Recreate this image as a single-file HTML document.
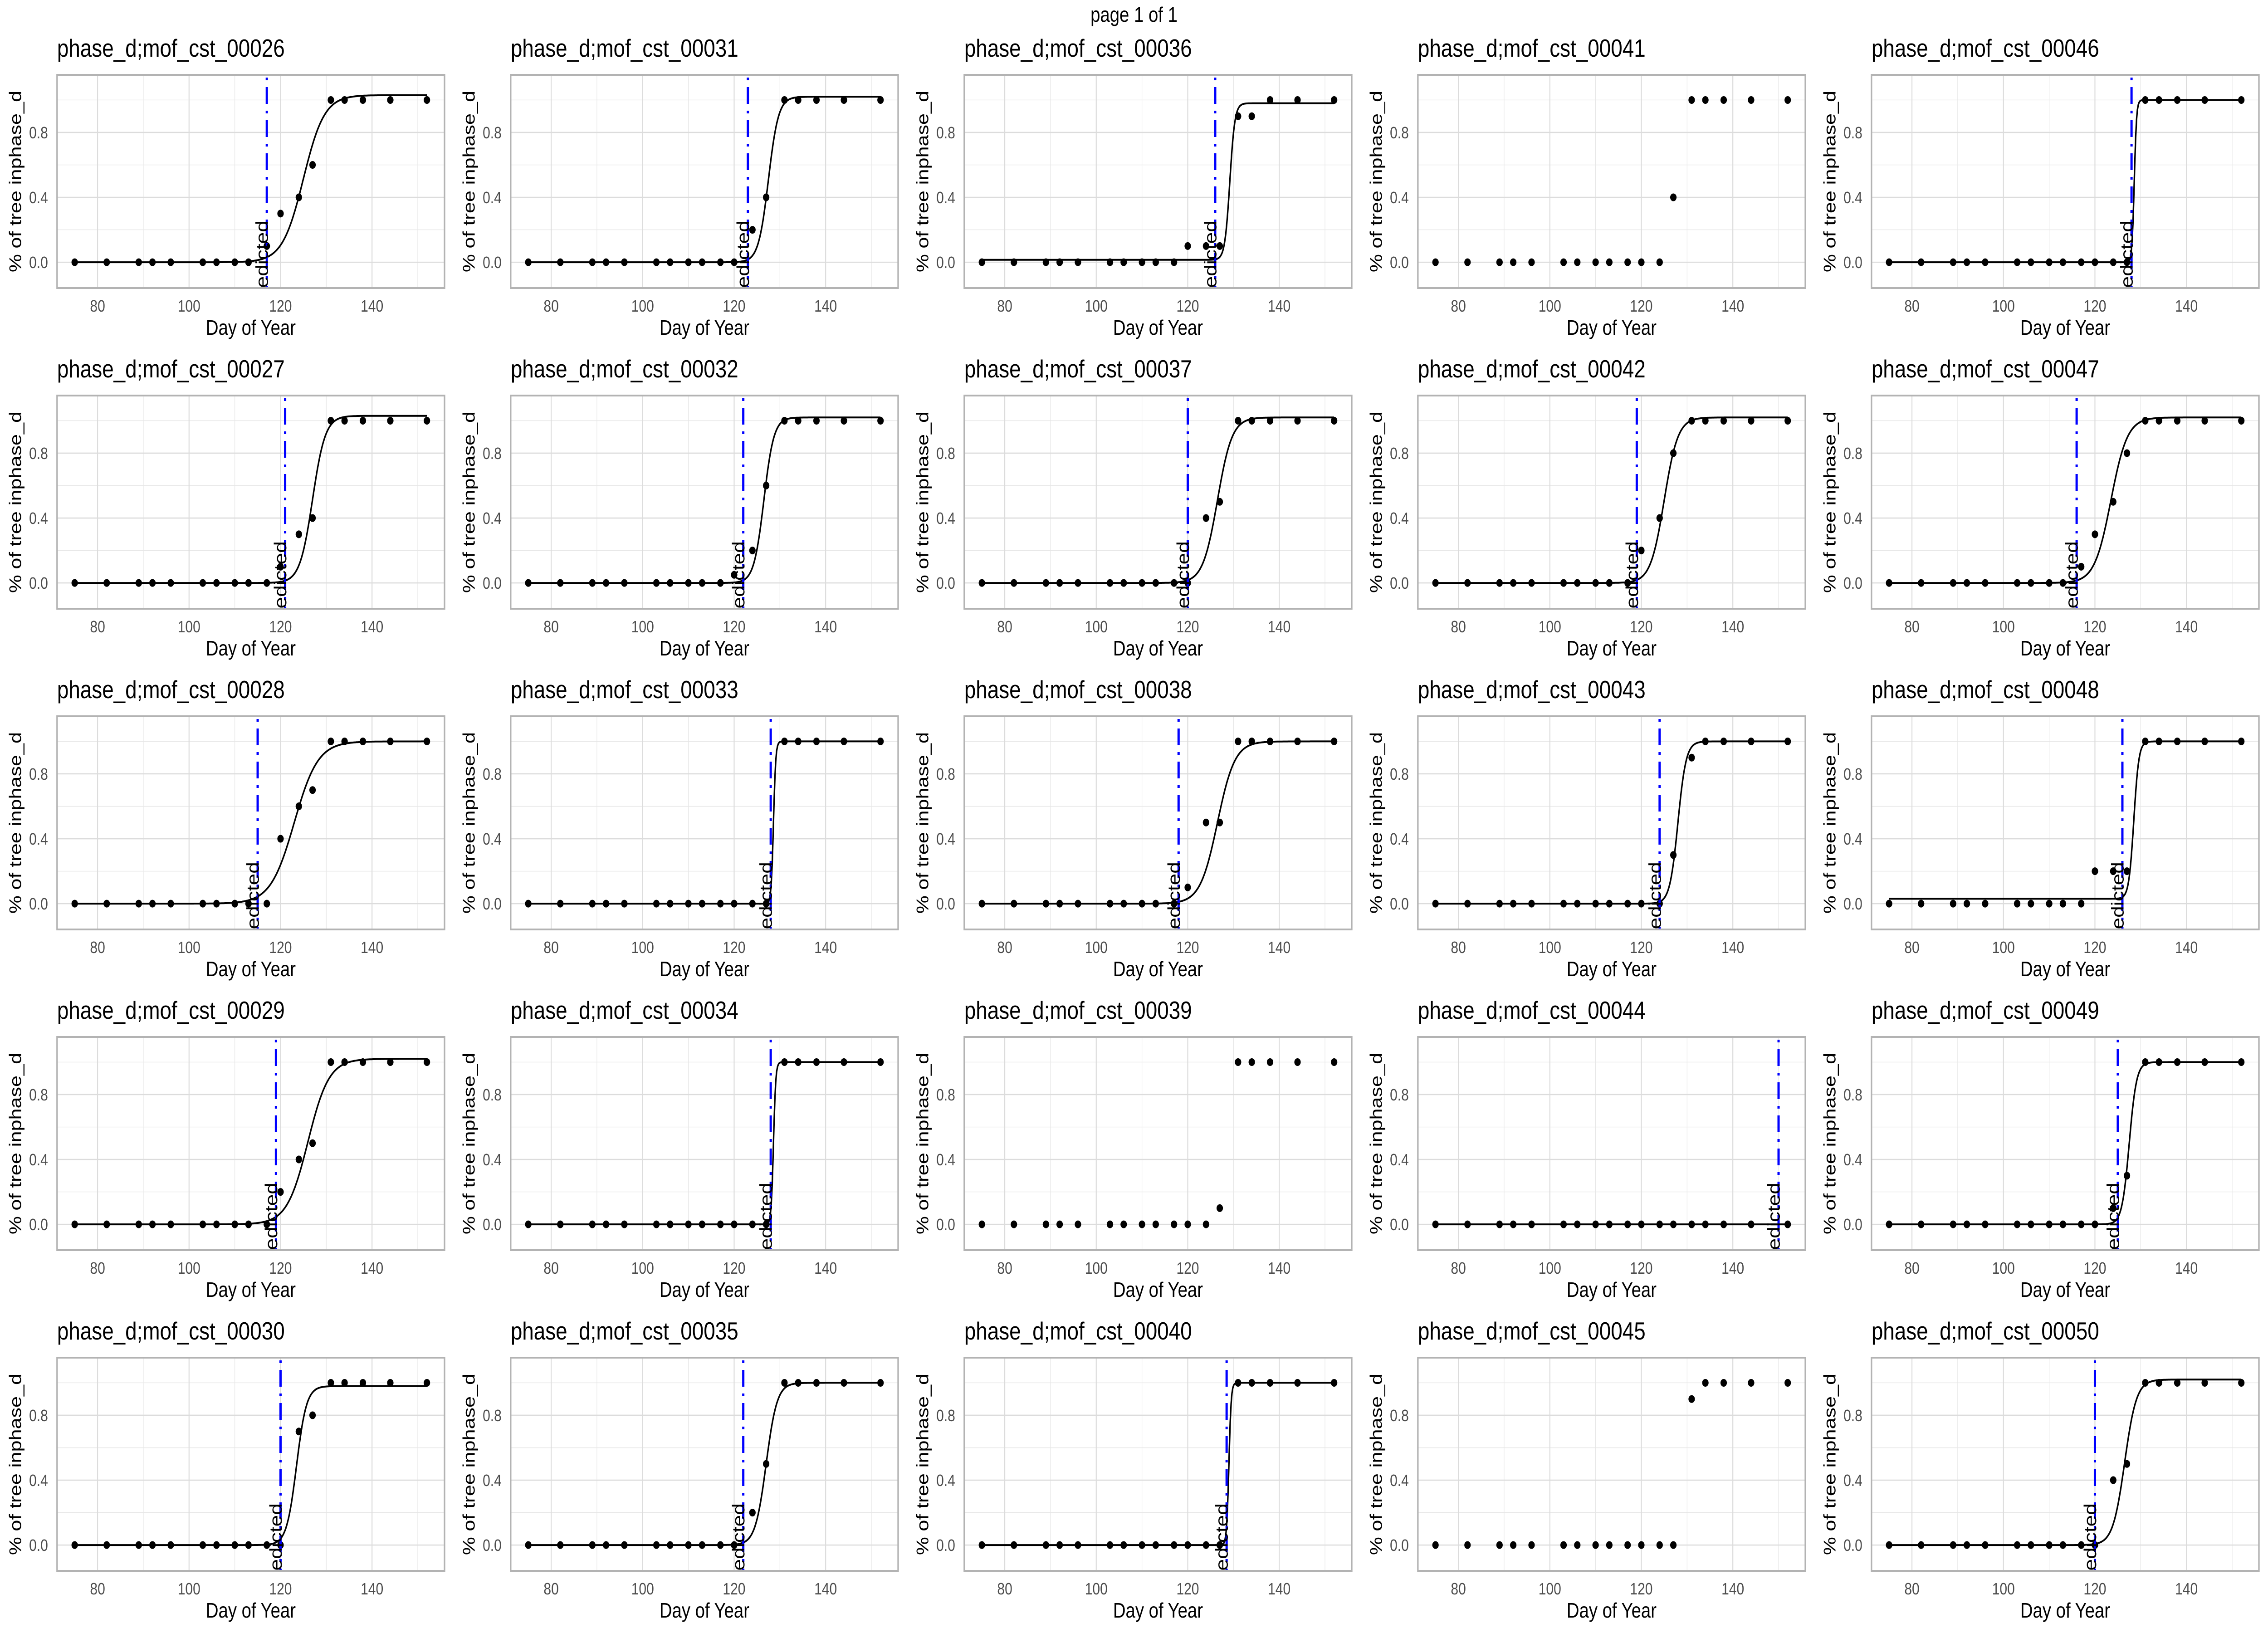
<!DOCTYPE html>
<html><head><meta charset="utf-8">
<style>
html,body{margin:0;padding:0;background:#fff;overflow:hidden;width:100%;height:100%;}
svg{display:block;width:100vw;height:100vh;}
text{font-family:"Liberation Sans",sans-serif;}
</style></head>
<body>
<svg id="chart" viewBox="0 0 6000 3600" preserveAspectRatio="none" xmlns="http://www.w3.org/2000/svg">
<rect x="0" y="0" width="6000" height="3600" fill="#fff"/>
<text x="3000" y="48" font-size="46" text-anchor="middle" fill="#000">page 1 of 1</text>
</svg>
<script>
// ---- data ----
const days = [75,82,89,92,96,103,106,110,113,117,120,124,127,131,134,138,144,152];
const panelIds = ["00026","00027","00028","00029","00030","00031","00032","00033","00034","00035","00036","00037","00038","00039","00040","00041","00042","00043","00044","00045","00046","00047","00048","00049","00050"];
const vals26 = [0,0,0,0,0,0,0,0,0,0.1,0.3,0.4,0.6,1,1,1,1,1];
const vals27 = [0,0,0,0,0,0,0,0,0,0,0.1,0.3,0.4,1,1,1,1,1];
const vals28 = [0,0,0,0,0,0,0,0,0,0,0.4,0.6,0.7,1,1,1,1,1];
const vals29 = [0,0,0,0,0,0,0,0,0,0,0.2,0.4,0.5,1,1,1,1,1];
const vals30 = [0,0,0,0,0,0,0,0,0,0,0,0.7,0.8,1,1,1,1,1];
const vals31 = [0,0,0,0,0,0,0,0,0,0,0,0.2,0.4,1,1,1,1,1];
const vals32 = [0,0,0,0,0,0,0,0,0,0,0.05,0.2,0.6,1,1,1,1,1];
const vals33 = [0,0,0,0,0,0,0,0,0,0,0,0,0,1,1,1,1,1];
const vals34 = [0,0,0,0,0,0,0,0,0,0,0,0,0,1,1,1,1,1];
const vals35 = [0,0,0,0,0,0,0,0,0,0,0,0.2,0.5,1,1,1,1,1];
const vals36 = [0,0,0,0,0,0,0,0,0,0,0.1,0.1,0.1,0.9,0.9,1,1,1];
const vals37 = [0,0,0,0,0,0,0,0,0,0,0,0.4,0.5,1,1,1,1,1];
const vals38 = [0,0,0,0,0,0,0,0,0,0,0.1,0.5,0.5,1,1,1,1,1];
const vals39 = [0,0,0,0,0,0,0,0,0,0,0,0,0.1,1,1,1,1,1];
const vals40 = [0,0,0,0,0,0,0,0,0,0,0,0,0,1,1,1,1,1];
const vals41 = [0,0,0,0,0,0,0,0,0,0,0,0,0.4,1,1,1,1,1];
const vals42 = [0,0,0,0,0,0,0,0,0,0,0.2,0.4,0.8,1,1,1,1,1];
const vals43 = [0,0,0,0,0,0,0,0,0,0,0,0,0.3,0.9,1,1,1,1];
const vals44 = [0,0,0,0,0,0,0,0,0,0,0,0,0,0,0,0,0,0];
const vals45 = [0,0,0,0,0,0,0,0,0,0,0,0,0,0.9,1,1,1,1];
const vals46 = [0,0,0,0,0,0,0,0,0,0,0,0,0,1,1,1,1,1];
const vals47 = [0,0,0,0,0,0,0,0,0,0.1,0.3,0.5,0.8,1,1,1,1,1];
const vals48 = [0,0,0,0,0,0,0,0,0,0,0.2,0.2,0.2,1,1,1,1,1];
const vals49 = [0,0,0,0,0,0,0,0,0,0,0,0.1,0.3,1,1,1,1,1];
const vals50 = [0,0,0,0,0,0,0,0,0,0,0,0.4,0.5,1,1,1,1,1];
const panelVals = [vals26,vals27,vals28,vals29,vals30,vals31,vals32,vals33,vals34,vals35,vals36,vals37,vals38,vals39,vals40,vals41,vals42,vals43,vals44,vals45,vals46,vals47,vals48,vals49,vals50];
// predicted day of year (null = none)
const predicted = [117,121,115,119,120,123,122,128,128,122,126,120,118,null,128.5,null,119,124,150,null,128,116,126,125,120];
// fitted logistic curve parameters (null = no fit)
const fitMid   = [125,127,123,126,123.5,127.5,126.5,128.6,128.6,127,129.2,126.5,126.5,null,129,null,125,128,0,null,128.6,123.5,128.5,127.5,126.5];
const fitScale = [2.3,1.4,2.6,2.3,1.1,1.1,1.1,0.25,0.25,1.2,0.55,1.6,1.9,null,0.25,null,1.5,0.9,1,null,0.25,1.8,0.55,0.8,1.3];
const fitUpper = [1.03,1.03,1.0,1.02,0.98,1.02,1.02,1.0,1.0,1.0,0.98,1.02,1.0,null,1.0,null,1.02,1.0,0,null,1.0,1.02,1.0,1.0,1.02];
const fitLower = [0,0,0,0,0,0,0,0,0,0,0.015,0,0,null,0,null,0,0,0,null,0,0,0.03,0,0];
const xTicks = [80,100,120,140];
const yTicks = [0,0.4,0.8];
const yTickLabels = ["0.0","0.4","0.8"];
const xMinorGrid = [90,110,130,150];
const yMinorGrid = [0.2,0.6,1.0];

// ---- layout ----
const NS = "http://www.w3.org/2000/svg";
const svg = document.getElementById('chart');
const X0 = 71.15, X1 = 155.85, Y0 = -0.159, Y1 = 1.155;
const RW = 1025, RH = 470;
function mk(tag, attrs, parent){ const e=document.createElementNS(NS,tag); for(const k in attrs) e.setAttribute(k,attrs[k]); (parent||svg).appendChild(e); return e; }

panelIds.forEach((id, i) => {
  const col = Math.floor(i/5), row = i%5;
  const ox = 1200*col, rx = ox+151, ry = 165+707*row;
  const sx = v => rx + (v-X0)/(X1-X0)*RW;
  const sy = v => ry + (Y1-v)/(Y1-Y0)*RH;
  const g = mk('g', {});
  
  

  const clipId = 'clip'+i;
  const cp = mk('clipPath', {id: clipId}, g);
  mk('rect', {x: rx, y: ry, width: RW, height: RH}, cp);

  const t = mk('text', {x: rx, y: ry-40, 'font-size': 55, fill: '#000'}, g);
  t.textContent = 'phase_d;mof_cst_' + id;
  
  

  xMinorGrid.forEach(v => { mk('line', {x1: sx(v), x2: sx(v), y1: ry, y2: ry+RH, stroke: '#e6e6e6', 'stroke-width': 1.4}, g); });
  yMinorGrid.forEach(v => { mk('line', {x1: rx, x2: rx+RW, y1: sy(v), y2: sy(v), stroke: '#e6e6e6', 'stroke-width': 1.4}, g); });
  xTicks.forEach(v => { mk('line', {x1: sx(v), x2: sx(v), y1: ry, y2: ry+RH, stroke: '#dcdcdc', 'stroke-width': 2.6}, g); });
  yTicks.forEach(v => { mk('line', {x1: rx, x2: rx+RW, y1: sy(v), y2: sy(v), stroke: '#dcdcdc', 'stroke-width': 2.6}, g); });

  xTicks.forEach(v => {
    const tl = mk('text', {x: sx(v), y: ry+RH+52, 'font-size': 36, fill: '#4d4d4d', 'text-anchor': 'middle'}, g);
    tl.textContent = v;
    
    
  });
  yTicks.forEach((v, k) => {
    const tl = mk('text', {x: rx-24, y: sy(v)+13, 'font-size': 36, fill: '#4d4d4d', 'text-anchor': 'end'}, g);
    tl.textContent = yTickLabels[k];
    
    
  });
  const xt = mk('text', {x: rx+RW/2, y: ry+RH+103, 'font-size': 46, fill: '#000', 'text-anchor': 'middle'}, g);
  xt.textContent = 'Day of Year';
  
  
  const yt = mk('text', {x: 0, y: 0, 'font-size': 45, fill: '#000', 'text-anchor': 'middle', transform: `translate(${ox+56},${ry+RH/2}) rotate(-90)`}, g);
  yt.textContent = '% of tree inphase_d';
  
  

  const inner = mk('g', {'clip-path': `url(#${clipId})`}, g);
  if (fitMid[i] !== null) {
    let d = '';
    for (let k = 0; k <= 400; k++) {
      const x = days[0] + (days[days.length-1]-days[0])*k/400;
      const y = fitLower[i] + (fitUpper[i]-fitLower[i])/(1+Math.exp(-(x-fitMid[i])/fitScale[i]));
      d += (k ? 'L' : 'M') + sx(x).toFixed(1) + ',' + sy(y).toFixed(1);
    }
    const p = mk('path', {d: d, fill: 'none', stroke: '#000', 'stroke-width': 4}, inner);
    
    
  }
  panelVals[i].forEach((v, k) => {
    const c = mk('circle', {cx: sx(days[k]), cy: sy(v), r: 8.5, fill: '#000'}, inner);
    
    
  });
  if (predicted[i] !== null) {
    const px = sx(predicted[i]);
    const l = mk('line', {x1: px, x2: px, y1: ry+6, y2: ry+RH, stroke: '#0000ff', 'stroke-width': 6, 'stroke-dasharray': '6 15 37 15'}, inner);
    
    
    const pt = mk('text', {x: 0, y: 0, 'font-size': 46, fill: '#000', 'text-anchor': 'end', transform: `translate(${px+3},${sy(0.257)}) rotate(-90)`}, inner);
    pt.textContent = 'predicted';
    
    
  }
  mk('rect', {x: rx, y: ry, width: RW, height: RH, fill: 'none', stroke: '#b3b3b3', 'stroke-width': 4}, g);
});
</script>
</body></html>
